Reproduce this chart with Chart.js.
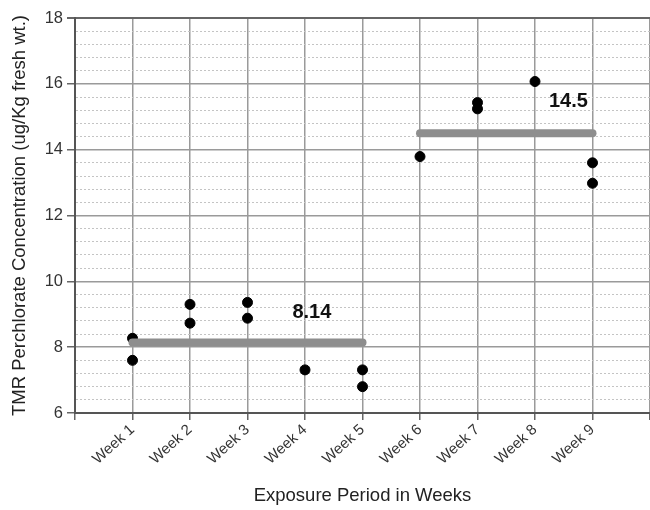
<!DOCTYPE html>
<html><head><meta charset="utf-8">
<script src="https://cdn.jsdelivr.net/npm/chart.js@4"></script>
<style>html,body{margin:0;padding:0;background:#fff}</style>
</head><body>
<canvas id="c" width="650" height="510"></canvas>
<script>
const weekLabels = ['Week 1','Week 2','Week 3','Week 4','Week 5','Week 6','Week 7','Week 8','Week 9'];
const pointWeeks = [1, 1, 2, 2, 3, 3, 4, 5, 5, 6, 7, 7, 8, 9, 9];
const pointValues = [8.27, 7.60, 9.30, 8.73, 9.36, 8.88, 7.31, 7.31, 6.80, 13.79, 15.43, 15.24, 16.07, 13.60, 12.98];
const meanStartWeeks = [1, 6];
const meanEndWeeks = [5, 9];
const meanValues = [8.14, 14.5];
const meanLabels = ['8.14', '14.5'];
const yMajorTicks = [6, 8, 10, 12, 14, 16, 18];
const yMinorStep = 0.4;

const FONT = '"Liberation Sans", Arial, sans-serif';
const isMajor = v => yMajorTicks.some(m => Math.abs(m - v) < 1e-6);

const datasets = [{
  type: 'scatter',
  data: pointWeeks.map((w, i) => ({x: w, y: pointValues[i]})),
  backgroundColor: '#000', borderColor: '#000',
  pointRadius: 5, pointHoverRadius: 5, order: 2
}];
meanValues.forEach((v, i) => {
  datasets.push({
    type: 'line',
    data: [{x: meanStartWeeks[i], y: v}, {x: meanEndWeeks[i], y: v}],
    borderColor: '#8e8e8e', borderWidth: 8, borderCapStyle: 'round',
    pointRadius: 0, fill: false, order: 1
  });
});

const labelPlugin = {
  id: 'meanLabels',
  afterDatasetsDraw(chart, args, opts) {
    const {ctx, scales: {x, y}} = chart;
    ctx.save();
    ctx.font = 'bold 20px ' + FONT;
    ctx.fillStyle = '#111';
    ctx.textAlign = 'center';
    ctx.textBaseline = 'middle';
    meanLabels.forEach((t, i) => {
      const p = opts.anchors[i];
      ctx.fillText(t, x.getPixelForValue(p.x), y.getPixelForValue(meanValues[i] + p.dy));
    });
    ctx.restore();
  }
};

new Chart(document.getElementById('c'), {
  type: 'scatter',
  data: {datasets},
  plugins: [labelPlugin],
  options: {
    responsive: false, animation: false, devicePixelRatio: 1,
    layout: {autoPadding: false, padding: {top: 18, right: 0, left: 0, bottom: 0}},
    plugins: {
      legend: {display: false}, tooltip: {enabled: false},
      meanLabels: {anchors: [{x: 4.12, dy: 0.9}, {x: 8.58, dy: 0.95}]}
    },
    scales: {
      x: {
        type: 'linear', min: 0, max: 10,
        afterFit: s => { s.height = 97; s.paddingRight = 0; s.paddingLeft = 0; },
        afterBuildTicks: s => { s.ticks = Array.from({length: 11}, (_, i) => ({value: i})); },
        ticks: {
          autoSkip: false, minRotation: 42, maxRotation: 42, padding: 1,
          color: '#333', font: {family: FONT, size: 15},
          callback: v => (v >= 1 && v <= weekLabels.length) ? weekLabels[v - 1] : ''
        },
        grid: {color: '#9a9a9a', lineWidth: 1.5, tickLength: 7, tickColor: '#666'},
        border: {color: '#555', width: 2},
        title: {display: true, text: 'Exposure Period in Weeks', color: '#222',
                font: {family: FONT, size: 18.5}, padding: {top: 0, bottom: 3}}
      },
      y: {
        type: 'linear', min: 6, max: 18,
        afterFit: s => { s.width = 75; s.paddingTop = 0; s.paddingBottom = 0; },
        afterBuildTicks: s => {
          const n = Math.round((18 - 6) / yMinorStep);
          s.ticks = Array.from({length: n + 1}, (_, i) => ({value: Math.round((6 + i * yMinorStep) * 10) / 10}));
        },
        ticks: {
          autoSkip: false, color: '#333', padding: 4,
          font: {family: FONT, size: 16.5},
          callback: v => isMajor(v) ? String(v) : ''
        },
        grid: {
          color: c => c.tick ? (Math.abs(c.tick.value - 18) < 1e-6 ? '#666' : (isMajor(c.tick.value) ? '#9a9a9a' : '#c4c4c4')) : '#999',
          lineWidth: c => c.tick && isMajor(c.tick.value) ? (Math.abs(c.tick.value - 18) < 1e-6 ? 2 : 1.5) : 1,
          tickLength: 8,
          tickColor: c => c.tick && isMajor(c.tick.value) ? '#666' : 'rgba(0,0,0,0)'
        },
        border: {color: '#555', width: 2, dash: c => (c.tick && !isMajor(c.tick.value)) ? [2, 2] : []},
        title: {display: true, text: 'TMR Perchlorate Concentration (ug/Kg fresh wt.)', color: '#222',
                font: {family: FONT, size: 18.5}, padding: {top: 9, bottom: 2}}
      }
    }
  }
});
</script>
</body></html>
